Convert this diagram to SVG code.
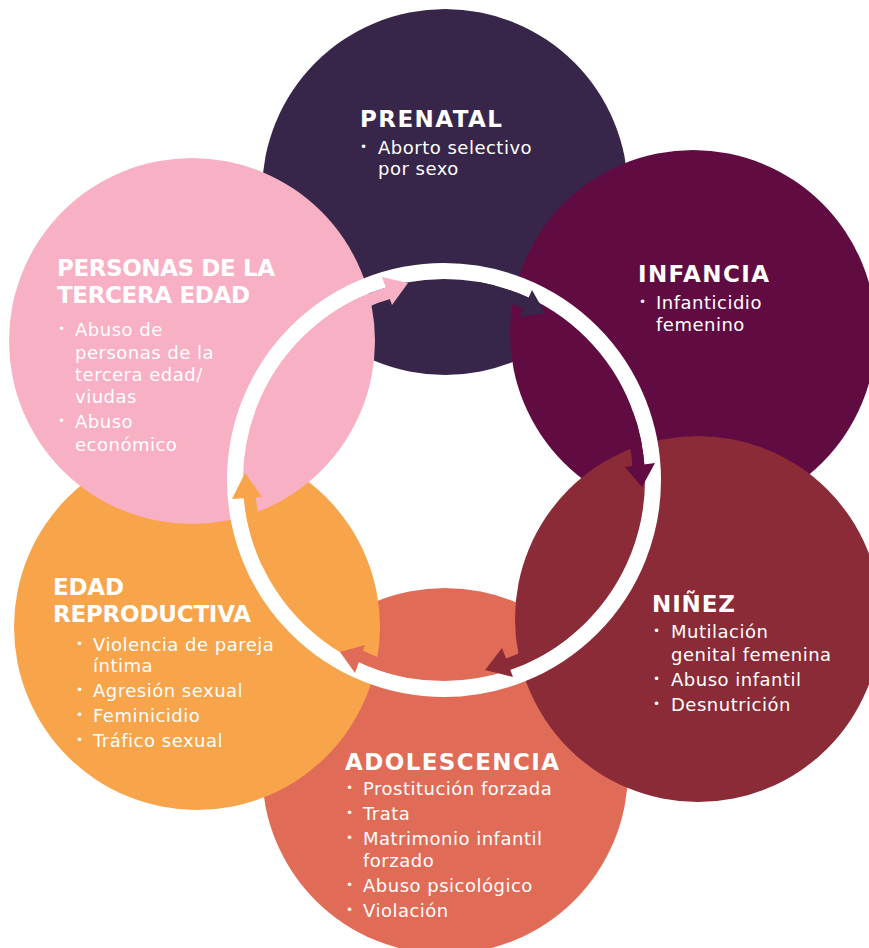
<svg xmlns="http://www.w3.org/2000/svg" width="869" height="948" viewBox="0 0 869 948">
<style>
.h{font-family:"DejaVu Sans","Liberation Sans",sans-serif;font-weight:bold;font-size:23px;fill:#fff}
.t{font-family:"DejaVu Sans","Liberation Sans",sans-serif;font-size:18px;letter-spacing:0.5px;fill:#fff}
.b{font-family:"DejaVu Sans","Liberation Sans",sans-serif;font-size:12px;fill:#fff}
.ring{fill:none;stroke:#fff;stroke-width:16}
.shaft{fill:none;stroke-width:12;stroke-linecap:butt}
</style>
<rect width="869" height="948" fill="#fff"/>
<g id="prenatal">
<circle cx="445" cy="192" r="183" fill="#37264a"/>
<text class="h" x="360" y="127" textLength="142" lengthAdjust="spacing">PRENATAL</text>
<text class="b" x="360" y="151">•</text>
<text class="t" x="378" y="154">Aborto selectivo</text>
<text class="t" x="378" y="175">por sexo</text>
</g>
<g id="adolescencia">
<circle cx="445" cy="771" r="183" fill="#e06c58"/>
<text class="h" x="345" y="770" textLength="214" lengthAdjust="spacing">ADOLESCENCIA</text>
<text class="b" x="346" y="792">•</text><text class="t" x="363" y="795">Prostitución forzada</text>
<text class="b" x="346" y="817">•</text><text class="t" x="363" y="820">Trata</text>
<text class="b" x="346" y="842">•</text><text class="t" x="363" y="845">Matrimonio infantil</text>
<text class="t" x="363" y="867">forzado</text>
<text class="b" x="346" y="889">•</text><text class="t" x="363" y="892">Abuso psicológico</text>
<text class="b" x="346" y="914">•</text><text class="t" x="363" y="917">Violación</text>
</g>
<g id="infancia">
<circle cx="693" cy="333" r="183" fill="#600c42"/>
<text class="h" x="638" y="282" textLength="131" lengthAdjust="spacing">INFANCIA</text>
<text class="b" x="639" y="306">•</text>
<text class="t" x="656" y="309">Infanticidio</text>
<text class="t" x="656" y="331">femenino</text>
</g>
<g id="edad-reproductiva">
<circle cx="197" cy="627" r="183" fill="#f8a44b"/>
<text class="h" x="53" y="595" textLength="71" lengthAdjust="spacing">EDAD</text>
<text class="h" x="53" y="622" textLength="198" lengthAdjust="spacing">REPRODUCTIVA</text>
<text class="b" x="76" y="648">•</text><text class="t" x="93" y="651">Violencia de pareja</text>
<text class="t" x="93" y="672">íntima</text>
<text class="b" x="76" y="694">•</text><text class="t" x="93" y="697">Agresión sexual</text>
<text class="b" x="76" y="719">•</text><text class="t" x="93" y="722">Feminicidio</text>
<text class="b" x="76" y="744">•</text><text class="t" x="93" y="747">Tráfico sexual</text>
</g>
<g id="ninez">
<circle cx="698" cy="619" r="183" fill="#8a2b37"/>
<text class="h" x="652" y="612" textLength="83" lengthAdjust="spacing">NIÑEZ</text>
<text class="b" x="653" y="635">•</text><text class="t" x="671" y="638">Mutilación</text>
<text class="t" x="671" y="661">genital femenina</text>
<text class="b" x="653" y="683">•</text><text class="t" x="671" y="686">Abuso infantil</text>
<text class="b" x="653" y="708">•</text><text class="t" x="671" y="711">Desnutrición</text>
</g>
<g id="tercera-edad">
<circle cx="192" cy="341" r="183" fill="#f8b0c4"/>
<text class="h" x="57" y="276" textLength="218" lengthAdjust="spacing">PERSONAS DE LA</text>
<text class="h" x="57" y="303" textLength="193" lengthAdjust="spacing">TERCERA EDAD</text>
<text class="b" x="58" y="333">•</text><text class="t" x="75" y="336">Abuso de</text>
<text class="t" x="75" y="359">personas de la</text>
<text class="t" x="75" y="381">tercera edad/</text>
<text class="t" x="75" y="403">viudas</text>
<text class="b" x="58" y="425">•</text><text class="t" x="75" y="428">Abuso</text>
<text class="t" x="75" y="451">económico</text>
</g>
<g id="connectors">
<circle class="ring" cx="444" cy="480" r="209"/>
<path class="shaft" stroke="#f8b0c4" d="M332.15,320.27 A195,195 0 0 1 392.55,291.91"/>
<polygon fill="#f8b0c4" points="382,277 408,283 392,305"/>
<path class="shaft" stroke="#37264a" d="M477.86,287.96 A195,195 0 0 1 530.70,305.34"/>
<polygon fill="#37264a" points="532,290 545,313 520,317"/>
<path class="shaft" stroke="#600c42" d="M627.24,413.31 A195,195 0 0 1 638.75,470.13"/>
<polygon fill="#600c42" points="625,467 655,463 642,487"/>
<path class="shaft" stroke="#8a2b37" d="M564.05,633.66 A195,195 0 0 1 503.29,665.77"/>
<polygon fill="#8a2b37" points="502,648 485,670 513,677"/>
<path class="shaft" stroke="#e06c58" d="M410.14,672.04 A195,195 0 0 1 356.69,654.36"/>
<polygon fill="#e06c58" points="365,645 340,652 355,673"/>
<path class="shaft" stroke="#f8a44b" d="M267.27,562.41 A195,195 0 0 1 249.41,492.58"/>
<polygon fill="#f8a44b" points="232,499 245,473 262,497"/>
</g>
</svg>
